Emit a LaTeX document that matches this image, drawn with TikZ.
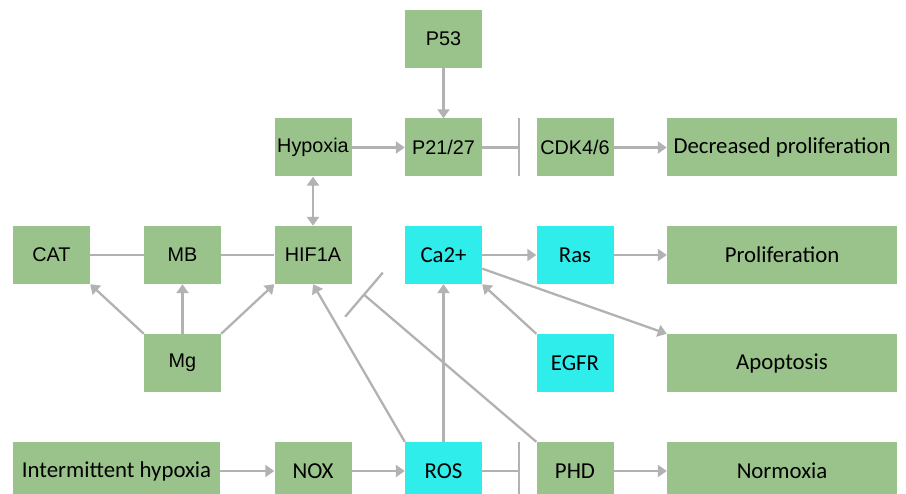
\documentclass[tikz,border=0pt]{standalone}
\usepackage{fontspec}
\setmainfont{Liberation Sans}
\newfontfamily\calfont{Carlito}
\usepackage{tikz}
\usetikzlibrary{arrows.meta, positioning}

\definecolor{boxgreen}{RGB}{154,195,140}
\definecolor{boxcyan}{RGB}{46,237,235}
\definecolor{linkgray}{RGB}{178,178,178}

\tikzset{
  box/.style={fill=boxgreen, minimum width=77pt, minimum height=58pt, inner sep=0pt},
  cyanbox/.style={box, fill=boxcyan},
  widebox/.style={box, minimum width=230pt},
  arialtxt/.style={font=\fontsize{19.8}{23}\selectfont},
  calitxt/.style={font=\calfont\fontsize{22.8}{26}\selectfont},
  link/.style={draw=linkgray, line width=2.3pt},
  act/.style={link, -{Triangle[length=9pt, width=12pt]}},
  bothact/.style={link, {Triangle[length=9pt, width=12pt]}-{Triangle[length=9pt, width=12pt]}},
  inh/.style={link, -{Bar[width=58pt]}, shorten >=16pt}
}

\begin{document}
\begin{tikzpicture}[x=1pt, y=-1pt]
\useasboundingbox (0,0) rectangle (906,494);

% top rows
\node[box, arialtxt] (p53) at (443.5,39) {P53};
\node[box, arialtxt] (hypoxia) at (313,147.5) {Hypoxia};
\node[box, arialtxt] (p21) at (443.5,147.5) {P21/27};
\node[box, arialtxt] (cdk) at (575,147.5) {CDK4/6};
\node[widebox, calitxt] (decprol) at (782,147.5) {Decreased proliferation};

% middle rows
\node[box, arialtxt] (cat) at (51.5,255) {CAT};
\node[box, arialtxt] (mb) at (182.5,255) {MB};
\node[box, arialtxt] (hif) at (313,255) {HIF1A};
\node[cyanbox, calitxt] (ca) at (443.5,255) {Ca2+};
\node[cyanbox, calitxt] (ras) at (575,255) {Ras};
\node[widebox, calitxt] (prol) at (782,255) {Proliferation};
\node[box, arialtxt] (mg) at (182.5,363) {Mg};
\node[cyanbox, calitxt] (egfr) at (575,363) {EGFR};
\node[widebox, calitxt] (apop) at (782,363) {Apoptosis};

% bottom row
\node[box, minimum width=207pt, calitxt] (ih) at (116.5,471) {Intermittent hypoxia};
\node[box, calitxt] (nox) at (313,471) {NOX};
\node[cyanbox, calitxt] (ros) at (443.5,471) {ROS};
\node[box, calitxt] (phd) at (575,471) {PHD};
\node[widebox, calitxt] (normo) at (782,471) {Normoxia};

% connectors
\draw[act] (p53) -- (p21);
\draw[act] (hypoxia) -- (p21);
\draw[inh] (p21) -- (cdk);
\draw[act] (cdk) -- (decprol);
\draw[link] (cat) -- (mb);
\draw[link] (mb) -- (hif);
\draw[bothact] (hypoxia) -- (hif);
\draw[act] (mg.north west) -- (cat.south east);
\draw[act] (mg) -- (mb);
\draw[act] (mg.north east) -- (hif.south west);
\draw[act] (ca) -- (ras);
\draw[act] (ras) -- (prol);
\draw[act] (ca) -- (apop.north west);
\draw[act] (egfr.north west) -- (ca.south east);
\draw[act] (ros) -- (ca);
\draw[act] (ros.north west) -- (hif.south);
\draw[inh, shorten >=15pt] (phd.north west) -- (hif.south east);
\draw[act] (ih) -- (nox);
\draw[act] (nox) -- (ros);
\draw[inh] (ros) -- (phd);
\draw[act] (phd) -- (normo);
\end{tikzpicture}
\end{document}
